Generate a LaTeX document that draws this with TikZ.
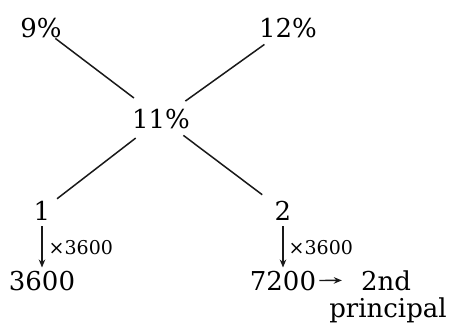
\documentclass[tikz,border=0pt]{standalone}
\usepackage{fontspec}
\setmainfont{DejaVu Serif}
\usetikzlibrary{arrows.meta}
\tikzset{
  val/.style  ={inner sep=3pt, anchor=base, font=\fontsize{26}{30}\selectfont},
  lbl/.style  ={inner sep=0pt, anchor=base west, font=\fontsize{19}{22}\selectfont},
  leg/.style  ={line width=1.5pt, draw=black!90},
  arr/.style  ={-{Stealth[length=8pt,width=6.5pt]}, line width=1.4pt, draw=black!90},
}
\begin{document}
\begin{tikzpicture}[x=1pt, y=-1pt]
  \useasboundingbox (0,0) rectangle (454,327);

  % rates
  \node[val] (r9)  at (41,37)  {9\%};
  \node[val] (r12) at (288,37) {12\%};
  \node[val] (r11) at (161,128) {11\%};

  % ratio
  \node[val] (q1) at (42,220)  {1};
  \node[val] (q2) at (283,220) {2};

  % principals
  \node[val] (p1) at (42,290)  {3600};
  \node[val] (p2) at (283,290) {7200};
  \node[val] (snd) at (386,290) {2nd};
  \node[val] (prin) at (388,317) {principal};

  % cross lines
  \draw[leg, shorten <=18pt, shorten >=34pt] (r9.center) -- (r11.center);
  \draw[leg, shorten <=29pt, shorten >=30pt] (r12.center) -- (r11.center);
  \draw[leg, shorten <=32pt, shorten >=19pt] (r11.center) -- (q1.center);
  \draw[leg, shorten <=28pt, shorten >=26pt] (r11.center) -- (q2.center);

  % scaling arrows
  \draw[arr, shorten <=3pt] (q1) -- (p1)
       node[lbl, pos=0.55, xshift=6pt, yshift=-7pt] {×3600};
  \draw[arr, shorten <=3pt] (q2) -- (p2)
       node[lbl, pos=0.55, xshift=5pt, yshift=-7pt] {×3600};
  \draw[arr, shorten >=16pt] (p2) -- (snd);
\end{tikzpicture}
\end{document}
